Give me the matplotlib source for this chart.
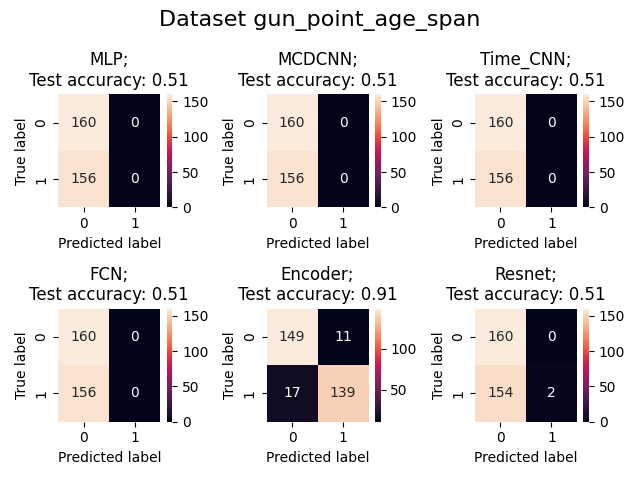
import numpy as np
import matplotlib
matplotlib.use("Agg")
import matplotlib.pyplot as plt
import seaborn as sns

dataset_name = "gun_point_age_span"
model_names = ["MLP", "MCDCNN", "Time_CNN", "FCN", "Encoder", "Resnet"]
accuracies = [0.51, 0.51, 0.51, 0.51, 0.91, 0.51]
conf_mlp = [[160, 0], [156, 0]]
conf_mcdcnn = [[160, 0], [156, 0]]
conf_time_cnn = [[160, 0], [156, 0]]
conf_fcn = [[160, 0], [156, 0]]
conf_encoder = [[149, 11], [17, 139]]
conf_resnet = [[160, 0], [154, 2]]
matrices = [conf_mlp, conf_mcdcnn, conf_time_cnn, conf_fcn, conf_encoder, conf_resnet]

fig, axes = plt.subplots(2, 3, figsize=(6.4, 4.8))
for ax, name, acc, cm in zip(axes.flat, model_names, accuracies, matrices):
    sns.heatmap(np.array(cm), annot=True, fmt="d", ax=ax)
    ax.set_title(f"{name};\nTest accuracy: {acc:.2f}")
    ax.set_xlabel("Predicted label")
    ax.set_ylabel("True label")

fig.suptitle(f"Dataset {dataset_name}", fontsize=16)
fig.tight_layout()
fig.savefig("out.png", dpi=100)
